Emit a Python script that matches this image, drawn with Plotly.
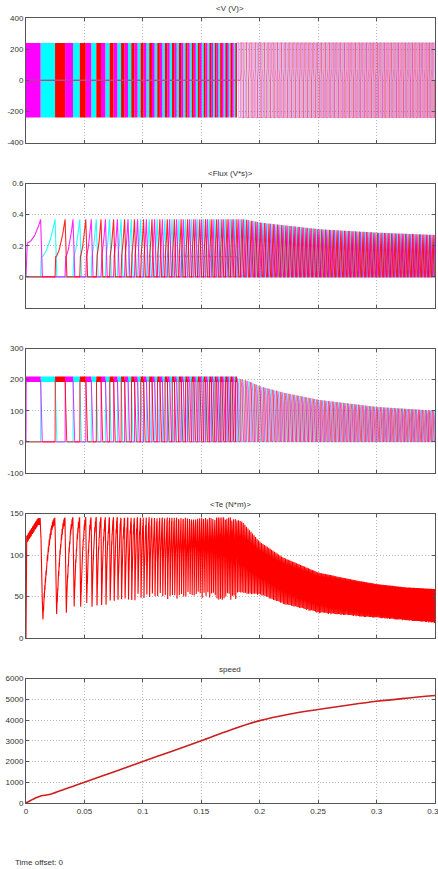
import numpy as np
import plotly.graph_objects as go

# ---------------- values ----------------
speed_t = [0, 0.004, 0.008, 0.012, 0.016, 0.02, 0.025, 0.03, 0.04, 0.05, 0.075, 0.1,
           0.125, 0.15, 0.175, 0.2, 0.225, 0.25, 0.275, 0.3, 0.325, 0.35]
speed_rpm = [0, 120, 240, 330, 370, 410, 500, 600, 800, 1000, 1500, 2000,
             2500, 3000, 3520, 3970, 4280, 4505, 4710, 4900, 5050, 5180]

first_stroke_end = 0.0125      # s, end of first (magenta) conduction block
stroke_deg = 30.0              # rotor angle between commutations
base_time = 0.18               # s, end of the current-chopping region
v_dc = 240                     # V, supply level seen in <V (V)>
off_ramp = 75                  # V, level reached by the off-phase band
chop_band = [192, 210]         # A, hysteresis band in <I (A)>
flux_step = 0.13               # V*s, flux at the start of a stroke
flux_pk_t = [0, 0.185, 0.2, 0.25, 0.3, 0.35]
flux_pk = [0.37, 0.37, 0.348, 0.306, 0.284, 0.269]
cur_pk_t = [0.18, 0.19, 0.2, 0.22, 0.25, 0.3, 0.35]
cur_pk = [205, 195, 178, 158, 135, 112, 100]
te_top_t = [0, 0.0103, 0.05, 0.1, 0.15, 0.175, 0.185, 0.2, 0.22, 0.25, 0.28, 0.3, 0.325, 0.35]
te_top = [122, 145, 146, 146, 145, 146, 140, 116, 97, 79, 70, 65, 61, 59]
te_bot_t = [0.0145, 0.027, 0.035, 0.041, 0.047, 0.06, 0.08, 0.1, 0.15, 0.18, 0.2, 0.22, 0.25, 0.3, 0.35]
te_bot = [28, 35, 38, 40, 43, 47, 51, 54, 56, 54, 52, 41, 30, 24, 18]

x_ticks = [0, 0.05, 0.1, 0.15, 0.2, 0.25, 0.3, 0.35]
v_ticks = [-400, -200, 0, 200, 400]
flux_ticks = [0, 0.2, 0.4, 0.6]
i_ticks = [-100, 0, 100, 200, 300]
te_ticks = [0, 50, 100, 150]
spd_ticks = [0, 1000, 2000, 3000, 4000, 5000, 6000]
titles = ['<V (V)>', '<Flux (V*s)>', '<I (A)>', '<Te (N*m)>', 'speed']
phase_colors = ['#ff00ff', '#00ffff', '#ff0000']
T_END = 0.35

# ---------------- commutation instants from the speed curve ----------------
tg = np.linspace(0, 0.37, 37001)
rpm_g = np.interp(tg, speed_t, speed_rpm)
theta = np.concatenate([[0.0], np.cumsum(0.5 * (rpm_g[1:] + rpm_g[:-1]) * np.diff(tg)) * 6.0])
th0 = np.interp(first_stroke_end, tg, theta)
nb = int((theta[-1] - th0) / stroke_deg)
bounds = np.interp(th0 + stroke_deg * np.arange(nb), theta, tg)
starts = np.concatenate([[0.0], bounds])
n_str = int(np.sum(starts < T_END))


def theta_at(t):
    return np.interp(t, tg, theta)


def ton_at(t):
    return np.interp(t, flux_pk_t, flux_pk) / v_dc


# ---------------- per-phase traces ----------------
V_fill, V_low, V_high = [], [], []
I_fill, I_low, I_high = [], [], []
F_line = []
for p in range(3):
    vf = ([], []); vl = ([], []); vh = ([], [])
    if_ = ([], []); il = ([], []); ih = ([], [])
    fl = ([], [])
    prev_v = 0.0; prev_i = 0.0; prev_f = 0.0; prev_mode = None
    for k in range(p, n_str, 3):
        s, e = starts[k], starts[k + 1]
        if s < base_time:
            vf[0].extend([s, e, e, s, s, None]); vf[1].extend([-v_dc, -v_dc, v_dc, v_dc, -v_dc, None])
            if s > prev_v:
                vl[0].extend([prev_v, s, None]); vl[1].extend([0, 0, None])
            prev_v = e
            if_[0].extend([s, e, e, s, s, None]); if_[1].extend([chop_band[0], chop_band[0], chop_band[1], chop_band[1], chop_band[0], None])
            il[0].extend([prev_i, s, s + 0.0002, None]); il[1].extend([0, 0, 200, None])
            Tf = 0.0016
            tau = np.linspace(0, Tf, 9)
            il[0].extend(list(e + tau) + [None]); il[1].extend(list(200 * (1 - tau / Tf) ** 1.8) + [None])
            prev_i = e + Tf
            th_s = th0 + stroke_deg * (k - 1)
            pk = np.interp(e, flux_pk_t, flux_pk)
            tt = np.linspace(s, e, 24)
            u = (theta_at(tt) - th_s) / stroke_deg
            f = np.clip((u - 0.08) / 0.92, 0, 1) ** 1.5
            psi = flux_step + (pk - flux_step) * f
            tt2 = tt.copy(); tt2[0] = s + psi[0] / v_dc
            fl[0].extend([prev_f, s] + list(tt2) + [e + pk / v_dc]); fl[1].extend([0, 0] + list(psi) + [0])
            prev_f = e + pk / v_dc
            prev_mode = 'low'
        else:
            ton = ton_at(s)
            pk = np.interp(s, flux_pk_t, flux_pk)
            ipk = np.interp(s, cur_pk_t, cur_pk)
            ramp = off_ramp if prev_mode == 'high' else 0
            vh[0].extend([prev_v, s, s, s + ton, s + ton, s + 2 * ton, s + 2 * ton])
            vh[1].extend([0, ramp, v_dc, v_dc, -v_dc, -v_dc, 0])
            prev_v = s + 2 * ton
            ih[0].extend([prev_i, s, s + 0.35 * ton, s + ton, s + 1.4 * ton, s + 2 * ton])
            ih[1].extend([0, 0, ipk, 0.85 * ipk, 0.35 * ipk, 0])
            prev_i = s + 2 * ton
            fl[0].extend([prev_f, s, s + ton, s + 2 * ton]); fl[1].extend([0, 0, pk, 0])
            prev_f = s + 2 * ton
            prev_mode = 'high'
    vh[0].extend([prev_v, T_END + 0.01]); vh[1].extend([0, 0])
    ih[0].extend([prev_i, T_END + 0.01]); ih[1].extend([0, 0])
    fl[0].extend([prev_f, T_END + 0.01]); fl[1].extend([0, 0])
    V_fill.append(vf); V_low.append(vl); V_high.append(vh)
    I_fill.append(if_); I_low.append(il); I_high.append(ih)
    F_line.append(fl)

# ---------------- torque ----------------
tt = np.arange(0, T_END + 0.002, 2e-5)
k = np.searchsorted(starts, tt, side='right') - 1
s = starts[k]; e = starts[k + 1]; L = e - s; tau = tt - s
low = s < base_time
Td = np.where(low, np.clip(0.15 * L, 0.00035, 0.0025), 0.35 * L)
top_s = np.interp(s, te_top_t, te_top)
top_t = np.interp(tt, te_top_t, te_top)
bot = np.interp(s + Td, te_bot_t, te_bot)
v = np.clip((tau - Td) / np.maximum(L - Td, 1e-9), 0, 1)
Te = np.where(tau < Td, top_s - (top_s - bot) * (tau / Td), bot + (top_t - bot) * (1 - (1 - v) ** 2))
Te = np.where(k == 0, top_t, Te)
tri = np.abs(((tt / 0.00025) % 1.0) * 2 - 1)
Te = np.where(low, Te - 9 * tri, Te)
Te[0] = 0

# ---------------- figure ----------------
fig = go.Figure()
H, W = 869.0, 438.0
tops = [18, 183.5, 348.5, 513.5, 678.5]
ph = 124.5
x0, x1 = 26 / W, 435 / W
font_fam = 'Liberation Sans Narrow, Arial Narrow, Liberation Sans, Arial, sans-serif'


def add(tr, row):
    tr.xaxis = 'x' if row == 1 else f'x{row}'
    tr.yaxis = 'y' if row == 1 else f'y{row}'
    fig.add_trace(tr)


order = [1, 0, 2]
hi_op = {0: 0.55, 1: 0.35, 2: 0.55}
for p in order:
    add(go.Scatter(x=V_fill[p][0], y=V_fill[p][1], fill='toself', fillcolor=phase_colors[p],
                   mode='lines', line=dict(width=0, color=phase_colors[p]), hoverinfo='skip'), 1)
for p in order:
    add(go.Scatter(x=V_low[p][0], y=V_low[p][1], mode='lines', line=dict(width=1, color=phase_colors[p]),
                   opacity=0.6, hoverinfo='skip'), 1)
for p in order:
    add(go.Scatter(x=V_high[p][0], y=V_high[p][1], mode='lines', line=dict(width=0.8, color=phase_colors[p]),
                   opacity=hi_op[p], hoverinfo='skip'), 1)
for p in order:
    add(go.Scatter(x=F_line[p][0], y=F_line[p][1], mode='lines', line=dict(width=1.1, color=phase_colors[p]),
                   opacity=0.85, hoverinfo='skip'), 2)
for p in order:
    add(go.Scatter(x=I_fill[p][0], y=I_fill[p][1], fill='toself', fillcolor=phase_colors[p],
                   mode='lines', line=dict(width=0, color=phase_colors[p]), hoverinfo='skip'), 3)
for p in order:
    add(go.Scatter(x=I_low[p][0], y=I_low[p][1], mode='lines', line=dict(width=1, color=phase_colors[p]),
                   opacity=0.85, hoverinfo='skip'), 3)
for p in order:
    add(go.Scatter(x=I_high[p][0], y=I_high[p][1], mode='lines', line=dict(width=0.8, color=phase_colors[p]),
                   opacity=0.7, hoverinfo='skip'), 3)
add(go.Scatter(x=tt, y=Te, mode='lines', line=dict(width=1.1, color='#ff0000'), hoverinfo='skip'), 4)
add(go.Scatter(x=speed_t, y=speed_rpm, mode='lines', line=dict(width=1.6, color='#cc1f1f', shape='spline'),
               hoverinfo='skip'), 5)

axis_style = dict(showline=True, linecolor='#555555', linewidth=1, mirror='ticks', ticks='inside',
                  ticklen=3, tickcolor='#555555', showgrid=True, gridcolor='#b8b8b8', griddash='1px,2px',
                  gridwidth=1, zeroline=False, automargin=False, ticklabeloverflow='allow',
                  tickfont=dict(family=font_fam, size=8, color='#333333'))
yinfo = [([-400, 400], v_ticks), ([-0.2, 0.6], flux_ticks), ([-100, 300], i_ticks),
         ([0, 150], te_ticks), ([0, 6000], spd_ticks)]
lay = {}
ann = []
for i in range(5):
    sfx = '' if i == 0 else str(i + 1)
    top = 1 - tops[i] / H
    bottom = 1 - (tops[i] + ph) / H
    lay['xaxis' + sfx] = dict(axis_style, domain=[x0, x1], range=[0, T_END], tickvals=x_ticks,
                              ticktext=[f'{t:g}' for t in x_ticks], showticklabels=(i == 4),
                              anchor='y' + sfx)
    lay['yaxis' + sfx] = dict(axis_style, domain=[bottom, top], range=yinfo[i][0], tickvals=yinfo[i][1],
                              ticktext=[f'{t:g}' for t in yinfo[i][1]], anchor='x' + sfx)
    ann.append(dict(text=titles[i], xref='paper', yref='paper', x=(x0 + x1) / 2, y=1 - (tops[i] - 9.5) / H,
                    xanchor='center', yanchor='middle', showarrow=False,
                    font=dict(family=font_fam, size=8, color='#333333')))
ann.append(dict(text='Time offset: 0', xref='paper', yref='paper', x=13 / W, y=1 - 862.5 / H,
                xanchor='left', yanchor='middle', showarrow=False,
                font=dict(family=font_fam, size=8, color='#333333')))

fig.update_layout(width=438, height=869, margin=dict(l=0, r=0, t=0, b=0, autoexpand=False), showlegend=False,
                  paper_bgcolor='white', plot_bgcolor='white', annotations=ann, **lay)
fig.write_html('out.html', config={'displayModeBar': False},
               post_script="document.body.style.margin='0';document.body.style.overflow='hidden';")
